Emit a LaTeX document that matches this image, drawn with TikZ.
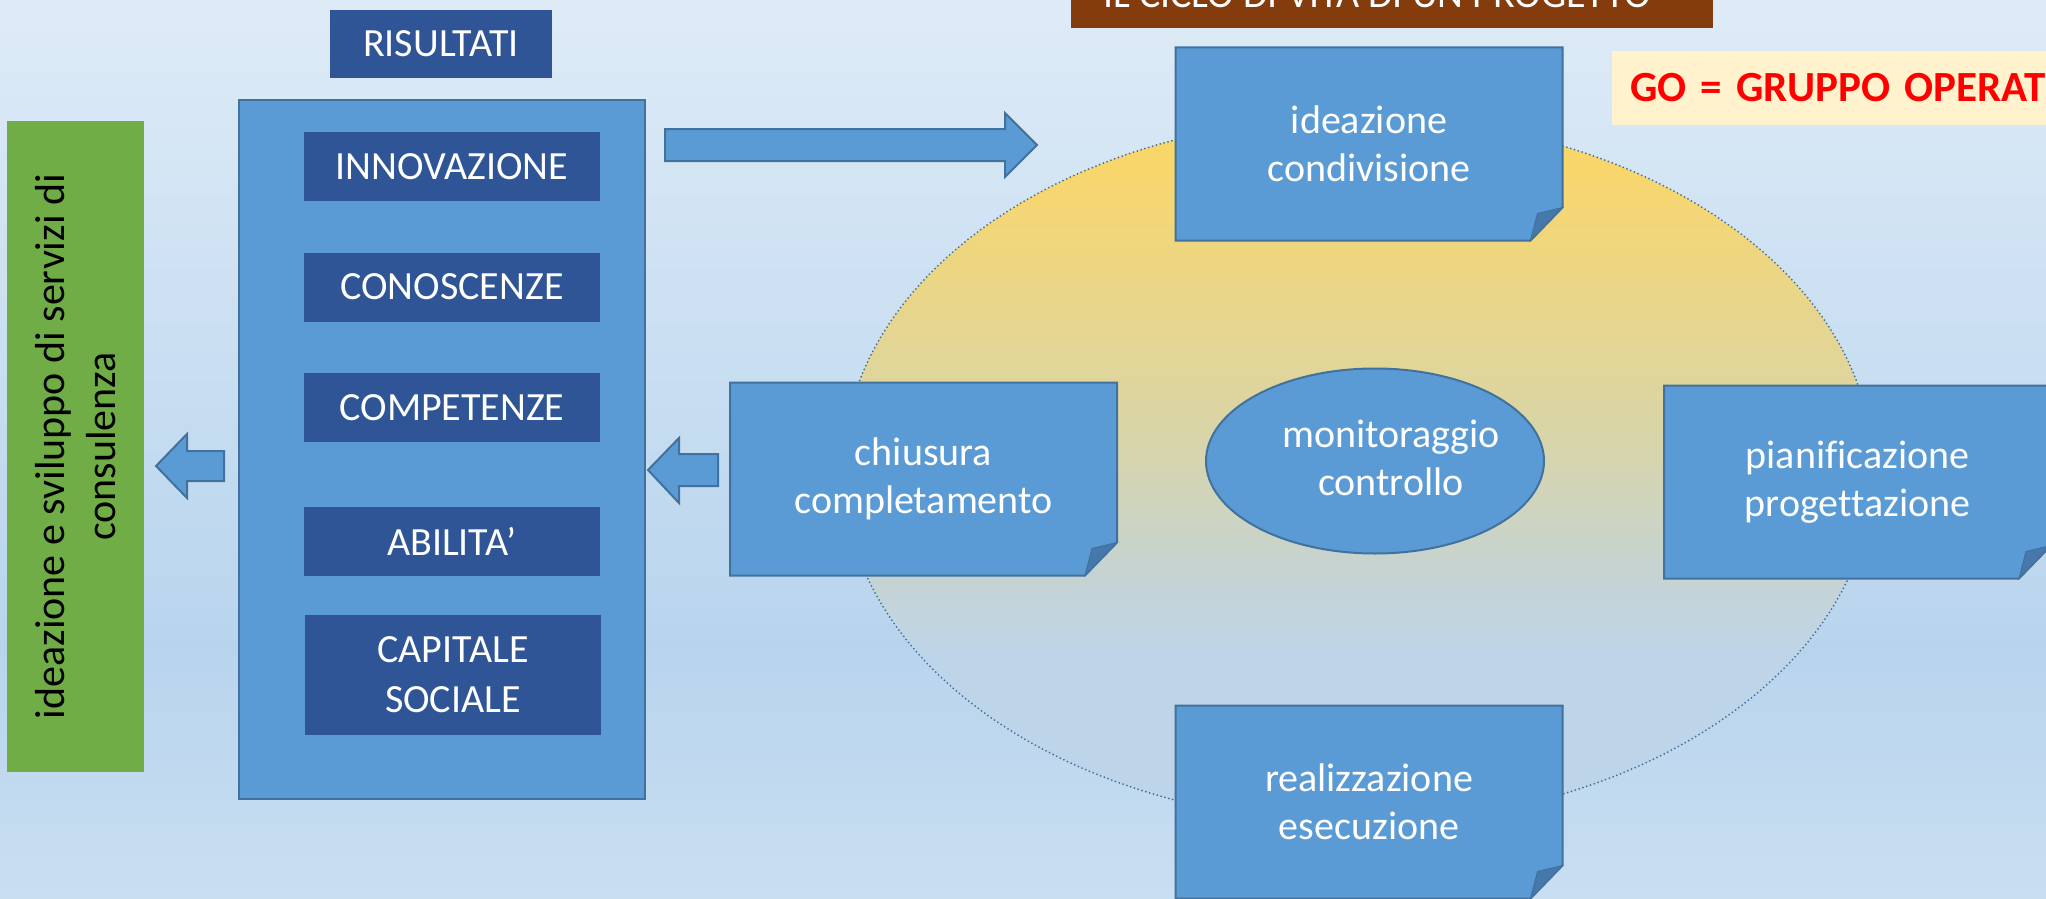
\documentclass[tikz,border=0pt]{standalone}
\usepackage{fontspec}
\setmainfont{Carlito}[Ligatures=NoCommon]
\usetikzlibrary{shapes.geometric, backgrounds}

\definecolor{boxblue}{RGB}{91,155,213}
\definecolor{lineblue}{RGB}{65,113,156}
\definecolor{darkblue}{RGB}{47,85,151}
\definecolor{foldblue}{RGB}{70,120,172}
\definecolor{leafgreen}{RGB}{112,173,71}
\definecolor{titlebrown}{RGB}{132,60,12}
\definecolor{gocream}{RGB}{255,242,204}
\definecolor{bgtop}{RGB}{222,235,247}
\definecolor{bgmid}{RGB}{184,212,237}
\definecolor{bgbottom}{RGB}{201,222,241}
\definecolor{ringlow}{RGB}{190,212,232}
\definecolor{ringhaze}{RGB}{200,211,205}
\definecolor{ringmid}{RGB}{216,213,170}
\definecolor{ringgold}{RGB}{249,214,106}

\pgfdeclareverticalshading{sfondo}{100bp}{color(0bp)=(bgbottom); color(25bp)=(bgbottom); color(39bp)=(bgmid); color(75bp)=(bgtop); color(100bp)=(bgtop)}
\pgfdeclareverticalshading{anello}{100bp}{color(0bp)=(ringlow); color(25bp)=(ringlow); color(37bp)=(ringlow); color(44bp)=(ringhaze); color(52bp)=(ringmid); color(72bp)=(ringgold); color(100bp)=(ringgold)}

\begin{document}
\begin{tikzpicture}[x=1pt, y=-1pt,
		every node/.style={font=\fontsize{40}{48}\selectfont, inner sep=0pt, outer sep=0pt},
		labelbox/.style={fill=darkblue, text=white, minimum width=296pt, minimum height=69pt},
		notebox/.style={text=white, align=center, minimum width=387pt},
		notefill/.style={fill=boxblue, draw=lineblue, line width=2pt},
		notefold/.style={fill=foldblue, draw=lineblue, line width=1pt},
		blockarrow/.style={fill=boxblue, draw=lineblue, line width=2pt},
		]
	
		% Slide area
		\useasboundingbox (0,0) rectangle (2046,899);
		\clip (0,0) rectangle (2046,899);
		
		\begin{scope}[on background layer]
			\shade[shading=sfondo] (0,0) rectangle (2046,899);
			% Life cycle ring
			\node[ellipse, minimum width=1030pt, minimum height=706pt, shade, shading=anello,
				draw=lineblue, line width=2pt, line cap=round, dash pattern=on 0pt off 4pt] (ciclo) at (1358,470) {};
		\end{scope}
		
		% Title bar, cut by the top edge
		\fill[titlebrown] (1071,-40) rectangle (1713,28);
		\node[anchor=base, text=white] (titolo) at (1377,8) {IL CICLO DI VITA DI UN PROGETTO};
		
		% GO label
		\node[fill=gocream, anchor=west, minimum height=74pt, text width=560pt, inner xsep=18pt, align=left,
			text=red, font=\bfseries\fontsize{43}{52}\selectfont] (go) at (1612,88) {GO = GRUPPO OPERAT};
		
		% Results column
		\node[labelbox, minimum width=222pt, minimum height=68pt] (risultati) at (441,44) {RISULTATI};
		\node[fill=boxblue, draw=lineblue, line width=2pt, minimum width=406pt, minimum height=699pt] (pannello) at (442,449.5) {};
		\node[labelbox] (innovazione) at (452,166.5) {INNOVAZIONE};
		\node[labelbox] (conoscenze) at (452,287) {CONOSCENZE};
		\node[labelbox] (competenze) at (452,407.5) {COMPETENZE};
		\node[labelbox] (abilita) at (452,541.5) {ABILITA’};
		\node[labelbox, minimum height=120pt, align=center, font=\fontsize{40}{50}\selectfont] (capitale) at (453,675) {CAPITALE\\SOCIALE};
		
		% Green side bar
		\node[fill=leafgreen, rotate=90, minimum width=651pt, minimum height=137pt, align=center,
			font=\fontsize{42}{51}\selectfont] (servizi) at (75.5,446.5) {ideazione e sviluppo di servizi di\\consulenza};
		
		% Block arrows
		\draw[blockarrow] (665,129) -- (1005,129) -- (1005,113) -- (1037,145) -- (1005,177) -- (1005,161) -- (665,161) -- cycle;
		\draw[blockarrow] (224,451) -- (187,451) -- (187,434) -- (156,466) -- (187,498) -- (187,481) -- (224,481) -- cycle;
		\draw[blockarrow] (718,454) -- (679,454) -- (679,438) -- (648,470) -- (679,503) -- (679,486) -- (718,486) -- cycle;
		
		% Centre of the cycle
		\node[ellipse, fill=boxblue, draw=lineblue, line width=2pt, minimum width=338pt, minimum height=185pt] (monitoraggio) at (1375,461) {};
		\node[text=white, align=center] (monitoraggioTesto) at (1391,458) {monitoraggio\\controllo};
		
		% Phases
		\node[notebox, minimum height=193pt] (ideazione) at (1369,144) {ideazione\\condivisione};
		\node[notebox, minimum height=193pt] (pianificazione) at (1857.5,482) {pianificazione\\progettazione};
		\node[notebox, minimum height=193pt] (realizzazione) at (1369,802) {realizzazione\\esecuzione};
		\node[notebox, minimum height=193pt] (chiusura) at (923.5,479) {chiusura\\completamento};
		
		% Folded notes behind the phase texts
		\begin{scope}[on background layer]
			\foreach \nota in {ideazione,pianificazione,realizzazione,chiusura} {
				\draw[notefill] (\nota.north west) -- (\nota.north east) -- ([yshift=33pt]\nota.south east)
					-- ([xshift=-32pt]\nota.south east) -- (\nota.south west) -- cycle;
				\draw[notefold] ([yshift=33pt]\nota.south east) -- ([xshift=-25pt, yshift=27pt]\nota.south east)
					-- ([xshift=-32pt]\nota.south east) -- cycle;
			}
		\end{scope}
		
	\end{tikzpicture}
\end{document}
